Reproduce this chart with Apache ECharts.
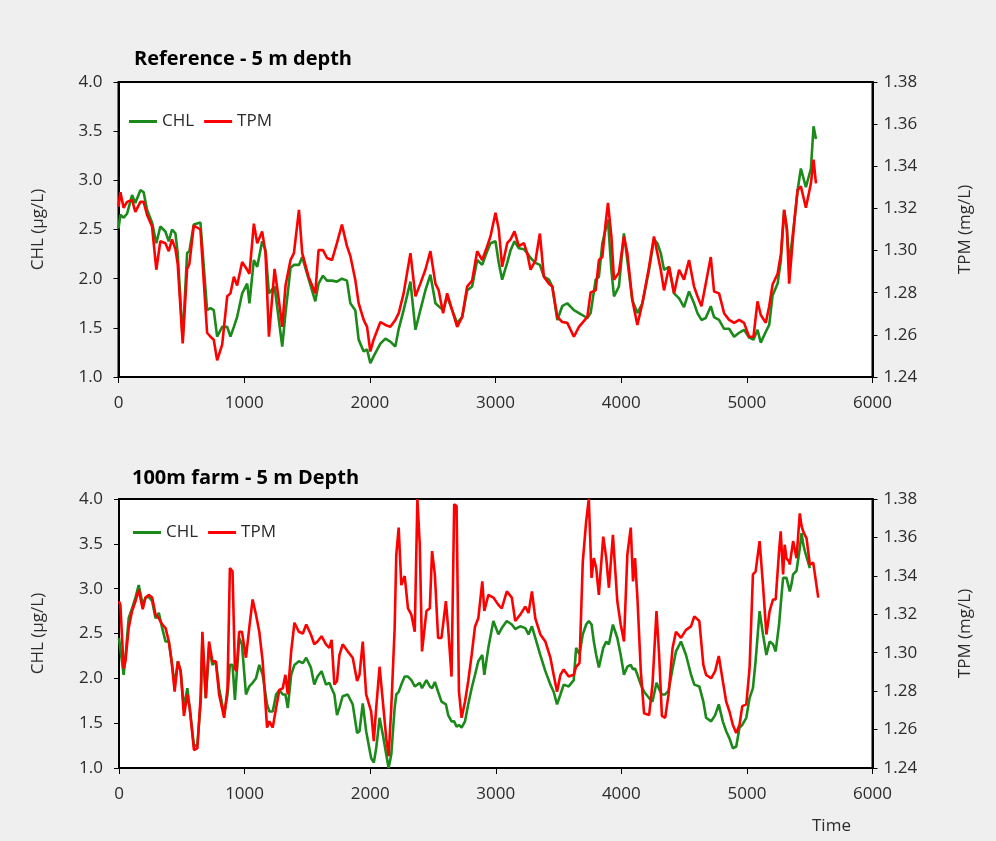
<!DOCTYPE html>
<html>
<head>
<meta charset="utf-8">
<script src="https://cdn.jsdelivr.net/npm/echarts@6/dist/echarts.min.js"></script>
<style>
html,body{margin:0;padding:0;background:#efefef;}
#chart{width:996px;height:841px;}
</style>
</head>
<body>
<div id="chart"></div>
<script>
// ---------- Reference - 5 m depth ----------
const refTime = [
0,15,41,68,108,134,174,200,227,267,
301,333,373,400,426,453,471,511,546,564,
599,652,705,732,758,785,825,865,891,918,
944,984,1024,1042,1077,1104,1143,1170,1197,1242,
1276,1303,1329,1369,1396,1436,1462,1512,1566,1592,
1627,1659,1699,1738,1778,1818,1845,1884,1911,1951,
1978,2004,2030,2084,2124,2163,2203,2230,2269,2323,
2363,2402,2442,2482,2522,2548,2583,2615,2655,2695,
2735,2774,2814,2854,2894,2934,2960,3000,3026,3053,
3093,3120,3151,3186,3226,3252,3279,3319,3353,3385,
3425,3452,3492,3531,3571,3624,3664,3731,3757,3797,
3823,3850,3876,3895,3922,3943,3982,4022,4049,4089,
4129,4169,4222,4261,4288,4315,4341,4381,4421,4461,
4500,4540,4580,4607,4639,4673,4713,4739,4779,4819,
4859,4899,4939,4978,5018,5053,5085,5111,5151,5178,
5205,5245,5271,5297,5319,5337,5377,5404,5430,5470,
5510,5531,5550];
const refChl = [
2.51,2.65,2.62,2.66,2.85,2.77,2.90,2.88,2.70,2.57,
2.36,2.53,2.48,2.38,2.50,2.46,2.26,1.38,2.26,2.28,
2.55,2.57,1.68,1.70,1.68,1.41,1.51,1.51,1.41,1.51,
1.61,1.85,1.95,1.75,2.19,2.12,2.38,2.29,1.85,1.92,
1.58,1.31,1.65,2.11,2.14,2.14,2.22,2.00,1.77,1.95,
2.03,1.98,1.98,1.97,2.00,1.98,1.75,1.68,1.38,1.26,
1.28,1.14,1.21,1.34,1.39,1.36,1.31,1.49,1.68,1.97,
1.48,1.68,1.88,2.04,1.75,1.72,1.68,1.82,1.68,1.55,
1.61,1.88,1.92,2.19,2.14,2.28,2.36,2.38,2.16,1.99,
2.16,2.29,2.38,2.31,2.30,2.26,2.21,2.16,2.14,2.02,
1.99,1.92,1.58,1.72,1.75,1.68,1.65,1.60,1.65,1.99,
2.02,2.36,2.50,2.60,2.09,1.82,1.92,2.46,2.19,1.78,
1.65,1.75,2.09,2.40,2.36,2.26,2.09,2.12,1.85,1.80,
1.71,1.87,1.75,1.65,1.58,1.60,1.72,1.61,1.58,1.49,
1.49,1.41,1.45,1.48,1.40,1.38,1.48,1.35,1.46,1.53,
1.83,1.95,2.19,2.70,2.50,2.15,2.57,2.90,3.12,2.93,
3.12,3.55,3.42];
const refTpm = [
1.3207,1.3277,1.3203,1.3231,1.3240,1.3184,1.3231,1.3231,1.3170,1.3114,
1.2909,1.3044,1.3035,1.2997,1.3053,1.3007,1.2937,1.2559,1.2913,1.2937,
1.3119,1.3100,1.2610,1.2591,1.2577,1.2479,1.2554,1.2783,1.2797,1.2876,
1.2834,1.2946,1.2909,1.2890,1.3128,1.3035,1.3091,1.2988,1.2591,1.2913,
1.2764,1.2638,1.2834,1.2955,1.2988,1.3193,1.2988,1.2876,1.2797,1.3002,
1.3002,1.2965,1.2955,1.3035,1.3123,1.3021,1.2974,1.2862,1.2750,1.2671,
1.2638,1.2521,1.2577,1.2661,1.2647,1.2638,1.2671,1.2703,1.2797,1.2988,
1.2783,1.2843,1.2909,1.2997,1.2843,1.2811,1.2703,1.2797,1.2717,1.2638,
1.2685,1.2829,1.2857,1.2997,1.2955,1.3021,1.3067,1.3179,1.3100,1.2923,
1.3035,1.3053,1.3091,1.3021,1.3035,1.2988,1.2909,1.2955,1.3081,1.2876,
1.2843,1.2829,1.2685,1.2661,1.2657,1.2591,1.2638,1.2685,1.2801,1.2811,
1.2955,1.2969,1.3128,1.3226,1.3067,1.2862,1.2895,1.3067,1.2988,1.2764,
1.2647,1.2750,1.2923,1.3067,1.2988,1.2909,1.2811,1.2923,1.2797,1.2909,
1.2862,1.2955,1.2829,1.2783,1.2736,1.2843,1.2969,1.2806,1.2797,1.2703,
1.2671,1.2657,1.2671,1.2657,1.2591,1.2591,1.2759,1.2694,1.2657,1.2736,
1.2839,1.2890,1.2983,1.3193,1.3100,1.2843,1.3133,1.3287,1.3305,1.3203,
1.3319,1.3431,1.3319];

// ---------- 100m farm - 5 m Depth ----------
const farmTime = [
0,11,37,51,77,104,131,157,189,211,
237,264,291,317,344,371,397,419,443,469,
491,517,544,563,597,624,651,664,691,717,
744,771,797,837,864,883,904,923,936,957,
979,1011,1037,1064,1091,1117,1144,1179,1197,1224,
1251,1277,1304,1325,1344,1371,1397,1432,1464,1491,
1528,1555,1581,1613,1648,1675,1693,1715,1736,1755,
1781,1821,1861,1896,1915,1941,1968,2008,2029,2048,
2075,2101,2128,2147,2168,2195,2208,2227,2248,2275,
2301,2328,2355,2376,2395,2413,2448,2475,2493,2515,
2541,2568,2603,2621,2648,2669,2688,2707,2728,2755,
2781,2808,2835,2861,2893,2909,2941,2981,3021,3048,
3088,3128,3155,3195,3235,3261,3288,3315,3355,3395,
3435,3461,3488,3515,3541,3581,3621,3640,3667,3693,
3720,3741,3763,3781,3800,3821,3856,3880,3901,3933,
3968,3995,4021,4048,4075,4093,4109,4128,4155,4181,
4221,4248,4280,4301,4323,4349,4376,4408,4435,4475,
4515,4555,4581,4621,4653,4675,4715,4747,4776,4808,
4835,4861,4888,4915,4941,4963,4995,5021,5048,5069,
5101,5128,5155,5181,5208,5229,5256,5269,5288,5301,
5315,5336,5341,5355,5368,5395,5421,5435,5448,5461,
5475,5501,5528,5568];
const farmChl = [
2.45,2.45,2.04,2.23,2.67,2.78,2.90,3.04,2.82,2.90,
2.91,2.86,2.67,2.73,2.56,2.41,2.41,2.19,1.93,2.19,
2.08,1.67,1.89,1.67,1.24,1.26,1.74,2.45,1.78,2.34,
2.15,2.19,1.89,1.60,1.82,2.15,2.15,1.76,1.74,2.45,
2.38,1.82,1.91,1.95,2.00,2.15,2.04,1.71,1.63,1.63,
1.82,1.87,1.82,1.82,1.67,2.04,2.15,2.19,2.17,2.23,
2.12,1.93,2.02,2.08,1.93,1.95,1.89,1.82,1.59,1.67,
1.80,1.82,1.71,1.39,1.41,1.72,1.41,1.11,1.06,1.22,
1.56,1.37,1.15,1.00,1.15,1.67,1.82,1.85,1.93,2.02,
2.02,1.98,1.91,1.93,1.95,1.89,1.98,1.91,1.89,1.96,
1.85,1.74,1.71,1.59,1.52,1.52,1.46,1.48,1.45,1.52,
1.71,1.89,2.04,2.19,2.26,2.04,2.34,2.64,2.49,2.56,
2.64,2.60,2.55,2.58,2.56,2.49,2.58,2.45,2.26,2.08,
1.93,1.85,1.71,1.82,1.93,1.91,1.98,2.34,2.27,2.49,
2.60,2.64,2.60,2.41,2.26,2.12,2.34,2.41,2.38,2.60,
2.45,2.26,2.04,2.13,2.15,2.10,2.11,2.04,1.93,1.85,
1.78,1.74,1.95,1.88,1.82,1.82,1.86,2.11,2.30,2.41,
2.26,2.04,1.93,1.91,1.74,1.56,1.52,1.59,1.71,1.52,
1.41,1.33,1.22,1.24,1.45,1.48,1.56,1.78,1.89,2.19,
2.75,2.49,2.26,2.41,2.38,2.30,2.60,2.82,3.12,3.10,
3.12,3.00,2.97,3.05,3.16,3.20,3.45,3.62,3.50,3.42,
3.40,3.23,null,null];
const farmTpm = [
1.3268,1.3249,1.2918,1.2955,1.3128,1.3217,1.3268,1.3329,1.3226,1.3287,
1.3301,1.3287,1.3198,1.3179,1.3147,1.3128,1.3058,1.2955,1.2797,1.2955,
1.2904,1.2671,1.2783,1.2713,1.2493,1.2503,1.2783,1.3109,1.2764,1.3058,
1.2955,1.2955,1.2783,1.2661,1.2815,1.3441,1.3422,1.2918,1.2904,1.3109,
1.3109,1.2974,1.3128,1.3277,1.3198,1.3109,1.2955,1.2610,1.2643,1.2610,
1.2713,1.2806,1.2815,1.2885,1.2783,1.3007,1.3156,1.3109,1.3100,1.3147,
1.3095,1.3044,1.3058,1.3086,1.3044,1.3025,1.3067,1.2834,1.2853,1.2988,
1.3044,1.3007,1.2974,1.2853,1.2885,1.3058,1.2783,1.2694,1.2540,1.2713,
1.2927,1.2745,1.2554,1.2461,1.2713,1.3128,1.3511,1.3651,1.3352,1.3399,
1.3231,1.3198,1.3109,1.3800,1.3562,1.3007,1.3217,1.3231,1.3529,1.3408,
1.3077,1.3077,1.3268,1.3128,1.2876,1.3772,1.3763,1.2797,1.2661,1.2745,
1.2853,1.2988,1.3137,1.3179,1.3371,1.3217,1.3301,1.3287,1.3249,1.3231,
1.3319,1.3287,1.3165,1.3198,1.3240,1.3207,1.3319,1.3179,1.3095,1.3058,
1.2974,1.2885,1.2797,1.2885,1.2913,1.2876,1.2885,1.2927,1.2946,1.3473,
1.3683,1.3800,1.3389,1.3492,1.3441,1.3301,1.3604,1.3492,1.3338,1.3613,
1.3268,1.3147,1.3058,1.3511,1.3651,1.3371,1.3492,1.3287,1.2904,1.2685,
1.2675,1.2834,1.3217,1.2988,1.2671,1.2661,1.2783,1.3025,1.3109,1.3077,
1.3119,1.3137,1.3189,1.3165,1.2937,1.2885,1.2867,1.2904,1.2983,1.2853,
1.2745,1.2694,1.2624,1.2582,1.2624,1.2722,1.2731,1.2918,1.3408,1.3422,
1.3581,1.3352,1.3095,1.3217,1.3277,1.3277,1.3529,1.3632,1.3408,1.3562,
1.3492,1.3473,1.3459,1.3459,1.3581,1.3492,1.3725,1.3660,1.3632,1.3613,
1.3595,1.3459,1.3469,1.3287];

const panelTitles = ['Reference - 5 m depth', '100m farm - 5 m Depth'];
const seriesNames = ['CHL', 'TPM'];
const chlName = 'CHL (µg/L)';
const tpmName = 'TPM (mg/L)';

const GREEN = '#1b8a1b', RED = '#ff0000';
const FONT = 'Open Sans';
const TXT = '#2b2b2b';

function pairs(t, v) { return t.map((x, i) => [x, v[i]]); }

function xAx(g) {
  return {
    gridIndex: g, type: 'value', min: 0, max: 6000, interval: 1000,
    axisLine: { show: true, onZero: false, lineStyle: { color: '#000', width: 2 } },
    axisTick: { show: true, length: 6, lineStyle: { color: '#000', width: 1 } },
    axisLabel: { margin: 18, fontSize: 17, color: TXT, fontFamily: FONT, formatter: v => String(v) },
    splitLine: { show: false }
  };
}
function yLeft(g) {
  return {
    gridIndex: g, type: 'value', position: 'left', min: 1, max: 4, interval: 0.5,
    name: chlName, nameLocation: 'middle', nameRotate: 90, nameGap: 72,
    nameTextStyle: { fontSize: 17, color: TXT, fontFamily: FONT },
    axisLine: { show: true, lineStyle: { color: '#000', width: 2 } },
    axisTick: { show: true, length: 5, lineStyle: { color: '#000', width: 1 } },
    axisLabel: { margin: 16, fontSize: 17, color: TXT, fontFamily: FONT, formatter: v => v.toFixed(1) },
    splitLine: { show: false }
  };
}
function yRight(g) {
  return {
    gridIndex: g, type: 'value', position: 'right', min: 1.24, max: 1.38, interval: 0.02,
    name: tpmName, nameLocation: 'middle', nameRotate: 90, nameGap: 84,
    nameTextStyle: { fontSize: 17, color: TXT, fontFamily: FONT },
    axisLine: { show: true, lineStyle: { color: '#000', width: 2 } },
    axisTick: { show: true, length: 5, lineStyle: { color: '#000', width: 1 } },
    axisLabel: { margin: 11, fontSize: 17, color: TXT, fontFamily: FONT, formatter: v => v.toFixed(2) },
    splitLine: { show: false }
  };
}
function line(name, xi, yi, data, color) {
  return {
    name: name, type: 'line', xAxisIndex: xi, yAxisIndex: yi, data: data,
    symbol: 'none', showSymbol: false, connectNulls: false,
    lineStyle: { color: color, width: 2.6 }, itemStyle: { color: color },
    animation: false
  };
}

const chart = echarts.init(document.getElementById('chart'), null, { renderer: 'canvas' });
chart.setOption({
  backgroundColor: '#efefef',
  animation: false,
  title: [
    { text: panelTitles[0], left: 129, top: 44, textStyle: { fontSize: 20, fontWeight: 'bold', color: '#000', fontFamily: FONT } },
    { text: panelTitles[1], left: 127, top: 463, textStyle: { fontSize: 20, fontWeight: 'bold', color: '#000', fontFamily: FONT } }
  ],
  legend: [
    { data: seriesNames, left: 124, top: 108, icon: 'rect', itemWidth: 28, itemHeight: 3, itemGap: 10,
      textStyle: { fontSize: 17, color: TXT, fontFamily: FONT } },
    { data: seriesNames, left: 128, top: 519, icon: 'rect', itemWidth: 28, itemHeight: 3, itemGap: 10,
      textStyle: { fontSize: 17, color: TXT, fontFamily: FONT } }
  ],
  grid: [
    { left: 118.5, right: 123.5, top: 82, height: 295, show: true, backgroundColor: '#fff', borderColor: '#000', borderWidth: 2 },
    { left: 119, right: 123.5, top: 499, height: 269, show: true, backgroundColor: '#fff', borderColor: '#000', borderWidth: 2 }
  ],
  xAxis: [xAx(0), xAx(1)],
  yAxis: [yLeft(0), yRight(0), yLeft(1), yRight(1)],
  graphic: [
    { type: 'text', left: 812, top: 818, style: { text: 'Time', fontSize: 17, fill: TXT, fontFamily: FONT } }
  ],
  series: [
    line(seriesNames[0], 0, 0, pairs(refTime, refChl), GREEN),
    line(seriesNames[1], 0, 1, pairs(refTime, refTpm), RED),
    line(seriesNames[0], 1, 2, pairs(farmTime, farmChl), GREEN),
    line(seriesNames[1], 1, 3, pairs(farmTime, farmTpm), RED)
  ]
});
</script>
</body>
</html>
